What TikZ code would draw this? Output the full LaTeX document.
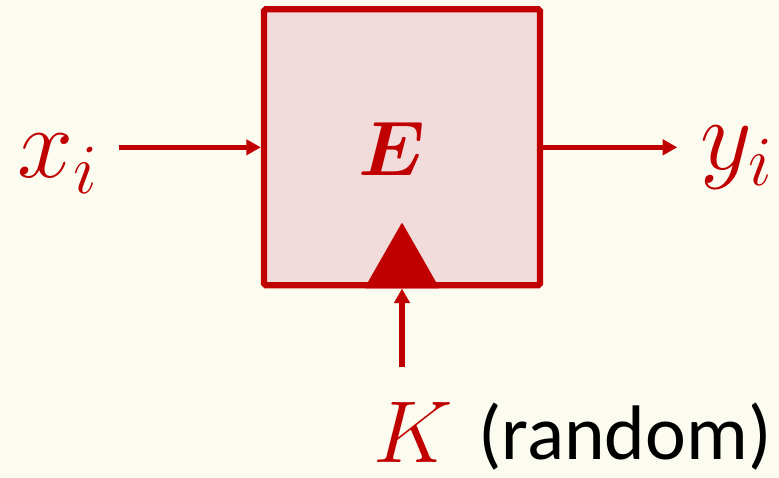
\RequirePackage{fix-cm}
\documentclass[tikz,border=0pt]{standalone}
\usepackage{amsmath}
\usepackage{bm}
\usepackage{fontspec}
\setsansfont{Carlito}
\usepackage{tikz}
\usetikzlibrary{calc,positioning,arrows.meta}
\definecolor{figRed}{HTML}{C00000}
\definecolor{figPink}{HTML}{F2DCDB}
\definecolor{figCream}{HTML}{FBFBF0}

\begin{document}
\begin{tikzpicture}[
  every node/.style={inner sep=0pt, text=figRed},
  cipher/.style={draw=figRed, line width=5.3pt, fill=figPink, rounded corners=1.5pt,
                 minimum width=8.28cm, minimum height=8.28cm},
  lbl/.style={font=\fontsize{86}{96}\selectfont},
  flow/.style={-{Triangle[length=12.5pt, width=13pt]}, line width=4.8pt, figRed},
]

% Background
\fill[figCream] (0,0) rectangle (23.37,14.34);
\useasboundingbox (0,0) rectangle (23.37,14.34);

% Cipher box
\node[cipher] (box) at (12.06, 9.92) {};
\node[anchor=base, font=\fontsize{66}{74}\selectfont] (enc) at (11.76, 9.06) {$\bm{E}$};
\fill[figRed, rounded corners=1pt] ($(box.south)+(-1.13,0)$) -- ($(box.south)+(0,1.98)$)
  -- ($(box.south)+(1.13,0)$) -- cycle;

% Inputs and outputs
\node[lbl, anchor=base] (xin) at (1.72, 9.0) {$x_i$};
\node[lbl, anchor=base] (yout) at (22.1, 9.24) {$y_i$};
\node[anchor=base, font=\fontsize{75}{84}\selectfont] (key) at (12.4, 0.48) {$K$};
\node[anchor=base, text=black, font=\sffamily\fontsize{66}{74}\selectfont] (rnd) at (18.75, 0.55) {(random)};

% Flows
\draw[flow, shorten <=0.65cm] (xin.east |- box.west) -- (box.west);
\draw[flow, shorten >=0.69cm] (box.east) -- (yout.west |- box.east);
\draw[flow, shorten <=1.05cm] (box.south |- key.north) -- (box.south);

\end{tikzpicture}
\end{document}
